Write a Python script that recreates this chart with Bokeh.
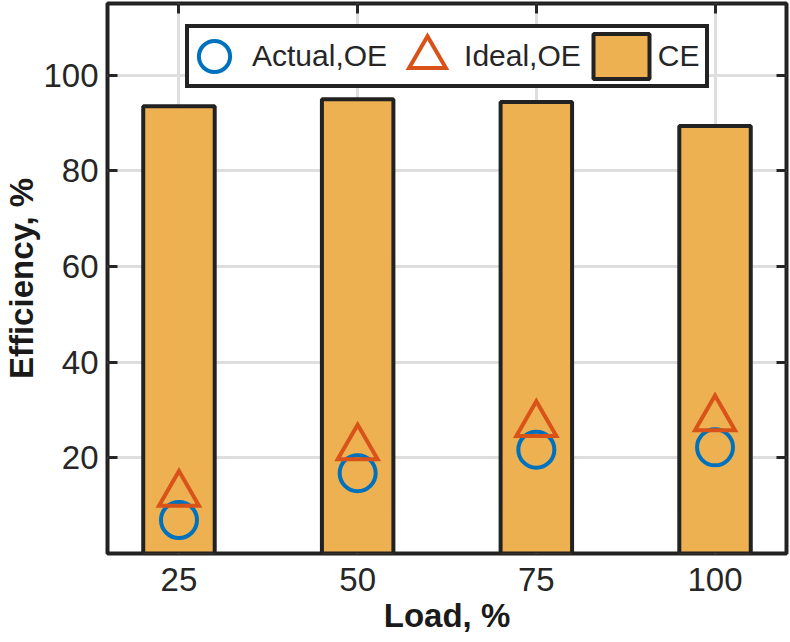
from bokeh.plotting import figure
from bokeh.models import (Range1d, FixedTicker, LinearAxis, Legend, LegendItem,
                          ColumnDataSource)
from bokeh.embed import file_html
from bokeh.resources import INLINE

# ---- data ----
load = [25, 50, 75, 100]
ce = [93.5, 95.0, 94.4, 89.4]
actual_oe = [7.0, 16.8, 21.7, 22.2]
ideal_oe = [12.4, 22.1, 27.0, 28.2]
x_ticks = [25, 50, 75, 100]
y_ticks = [20, 40, 60, 80, 100]
x_title = "Load, %"
y_title = "Efficiency, %"

FONT = "Liberation Sans"
INK = "#262626"
EDGE = "#222222"
BAR = "#EDB152"
BLUE = "#0072BD"
ORANGE = "#D95319"

p = figure(width=790, height=642, x_range=Range1d(15, 110), y_range=Range1d(0, 115),
           output_backend="svg", toolbar_location=None,
           min_border_left=107, min_border_right=4, min_border_top=3, min_border_bottom=89)
p.background_fill_color = "white"
p.border_fill_color = "white"
p.outline_line_color = EDGE
p.outline_line_width = 4
p.outline_line_alpha = 1

src = ColumnDataSource(dict(load=load, ce=ce, actual=actual_oe, ideal=ideal_oe))

bars = p.vbar(x="load", top="ce", width=10, bottom=0, source=src,
              fill_color=BAR, line_color=EDGE, line_width=4)
circ = p.scatter(x="load", y="actual", source=src, marker="circle", size=36,
                 fill_color=None, line_color=BLUE, line_width=4)
tri = p.scatter(x="load", y="ideal", source=src, marker="triangle", size=40,
                fill_color=None, line_color=ORANGE, line_width=4, line_join="miter")

dummy = p.scatter(x="x", y="y", source=ColumnDataSource(dict(x=[], y=[])),
                  fill_alpha=0, line_alpha=0)

# ---- axes ----
p.xaxis.ticker = FixedTicker(ticks=x_ticks)
p.yaxis.ticker = FixedTicker(ticks=y_ticks)
p.xaxis.axis_label = x_title
p.yaxis.axis_label = y_title
for ax in (p.xaxis[0], p.yaxis[0]):
    ax.axis_line_color = None
    ax.major_tick_in = 10
    ax.major_tick_out = 0
    ax.major_tick_line_width = 3
    ax.major_tick_line_color = INK
    ax.minor_tick_line_color = None
    ax.major_label_text_font = FONT
    ax.major_label_text_font_size = "33px"
    ax.major_label_text_color = INK
    ax.axis_label_text_font = FONT
    ax.axis_label_text_font_size = "33px"
    ax.axis_label_text_font_style = "bold"
    ax.axis_label_text_color = "#1a1a1a"
p.xaxis.major_tick_line_color = None
p.xaxis.major_label_standoff = 14
p.xaxis.axis_label_standoff = 3
p.yaxis.major_label_standoff = 9
p.yaxis.axis_label_standoff = 0

for loc, tk in (("above", x_ticks), ("right", y_ticks)):
    ax = LinearAxis(ticker=FixedTicker(ticks=tk), major_label_text_font_size="1px",
                    major_label_text_color=None,
                    major_tick_in=10, major_tick_out=0, major_tick_line_width=3,
                    major_tick_line_color=INK, minor_tick_line_color=None,
                    axis_line_color=None, major_label_standoff=0)
    p.add_layout(ax, loc)

p.xgrid.ticker = FixedTicker(ticks=x_ticks)
p.ygrid.ticker = FixedTicker(ticks=y_ticks)
for g in (p.xgrid[0], p.ygrid[0]):
    g.grid_line_color = "#dedede"
    g.grid_line_width = 3

# ---- legend: text box ----
leg_text = Legend(items=[LegendItem(label="Actual,OE", renderers=[dummy]),
                         LegendItem(label="Ideal,OE", renderers=[dummy]),
                         LegendItem(label="CE", renderers=[dummy])],
                  location=(78, 465), orientation="horizontal",
                  glyph_width=45, glyph_height=44, label_standoff=12, spacing=20,
                  padding=6, margin=0, border_line_color=EDGE, border_line_width=4,
                  border_line_alpha=1,
                  background_fill_color="white", background_fill_alpha=1,
                  label_text_font=FONT, label_text_font_size="30px", label_text_color=INK)
p.add_layout(leg_text)


def glyph_legend(r, loc, w, h):
    return Legend(items=[LegendItem(label="", renderers=[r])], location=loc,
                  glyph_width=w, glyph_height=h, label_width=0, label_standoff=0,
                  label_height=0, padding=0, margin=0, spacing=0,
                  border_line_color=None, background_fill_alpha=0,
                  label_text_font_size="1px", label_text_color=None)


p.add_layout(glyph_legend(circ, (68, 458), 78, 78))
p.add_layout(glyph_legend(tri, (274, 450), 92, 92))
p.add_layout(glyph_legend(bars, (479, 469), 70, 56))

open("out.html", "w").write(file_html(p, INLINE))
